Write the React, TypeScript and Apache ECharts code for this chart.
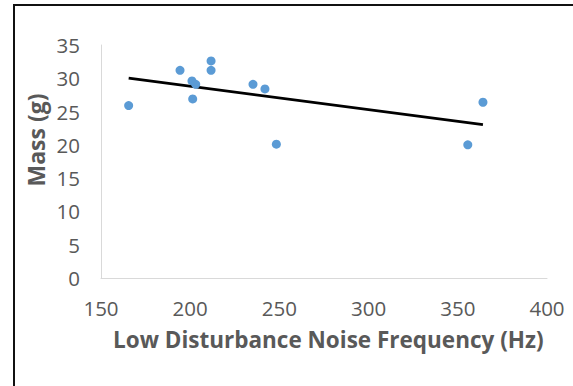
import React, { useEffect, useRef } from "react";
import * as echarts from "echarts";

const frequencyHz = [165.5, 194.3, 201.0, 203.1, 201.4, 211.7, 211.7, 235.2, 241.9, 248.3, 355.6, 364.1];
const massG = [25.9, 31.2, 29.6, 29.1, 26.9, 32.6, 31.2, 29.1, 28.4, 20.1, 20.0, 26.4];
const xTicks = [150, 200, 250, 300, 350, 400];
const yTicks = [0, 5, 10, 15, 20, 25, 30, 35];

const xTitle = "Low Disturbance Noise Frequency (Hz)";
const yTitle = "Mass (g)";

function linearFit(xs: number[], ys: number[]) {
  const n = xs.length;
  const mx = xs.reduce((a, b) => a + b, 0) / n;
  const my = ys.reduce((a, b) => a + b, 0) / n;
  let sxy = 0;
  let sxx = 0;
  for (let i = 0; i < n; i++) {
    sxy += (xs[i] - mx) * (ys[i] - my);
    sxx += (xs[i] - mx) * (xs[i] - mx);
  }
  const slope = sxy / sxx;
  return { slope, intercept: my - slope * mx };
}

export default function App() {
  const ref = useRef<HTMLDivElement>(null);
  useEffect(() => {
    if (!ref.current) return;
    const chart = echarts.init(ref.current, null, { renderer: "svg" });
    const fit = linearFit(frequencyHz, massG);
    const xMin = Math.min(...frequencyHz);
    const xMax = Math.max(...frequencyHz);
    const trend = [
      [xMin, fit.intercept + fit.slope * xMin],
      [xMax, fit.intercept + fit.slope * xMax],
    ];
    const font = "'Open Sans', sans-serif";
    chart.setOption({
      animation: false,
      backgroundColor: "#ffffff",
      grid: { left: 101, right: 26, top: 45, bottom: 108 },
      xAxis: {
        type: "value",
        min: xTicks[0],
        max: xTicks[xTicks.length - 1],
        interval: xTicks[1] - xTicks[0],
        splitLine: { show: false },
        axisTick: { show: false },
        axisLine: { show: true, lineStyle: { color: "#d9d9d9", width: 1 } },
        axisLabel: { color: "#595959", fontSize: 20.5, fontFamily: font, margin: 19 },
      },
      yAxis: {
        type: "value",
        min: yTicks[0],
        max: yTicks[yTicks.length - 1],
        interval: yTicks[1] - yTicks[0],
        splitLine: { show: false },
        axisTick: { show: false },
        axisLine: { show: true, lineStyle: { color: "#d9d9d9", width: 1 } },
        axisLabel: { color: "#595959", fontSize: 20.5, fontFamily: font, margin: 21 },
      },
      graphic: [
        {
          type: "text",
          left: 113,
          top: 328,
          style: {
            text: xTitle,
            fill: "#595959",
            font: "bold 22.5px 'Open Sans', sans-serif",
          },
        },
        {
          type: "text",
          x: 36,
          y: 140,
          rotation: Math.PI / 2,
          style: {
            text: yTitle,
            fill: "#595959",
            font: "bold 23px 'Open Sans', sans-serif",
            align: "center",
            verticalAlign: "middle",
          },
          originX: 0,
          originY: 0,
        },
      ],
      series: [
        {
          type: "scatter",
          data: frequencyHz.map((x, i) => [x, massG[i]]),
          symbolSize: 9,
          itemStyle: { color: "#5b9bd5", opacity: 1 },
          z: 3,
        },
        {
          type: "line",
          data: trend,
          showSymbol: false,
          lineStyle: { color: "#000000", width: 2.75 },
          z: 2,
        },
      ],
    });
    return () => chart.dispose();
  }, []);
  return (
    <div style={{ position: "fixed", left: 0, top: 0, width: 573, height: 386, background: "#fff", overflow: "hidden" }}>
      <div ref={ref} style={{ position: "absolute", left: 0, top: 0, width: 573, height: 386 }} />
      <div
        style={{
          position: "absolute",
          left: 13,
          top: 4,
          width: 700,
          height: 500,
          borderTop: "2px solid #111",
          borderLeft: "2px solid #111",
          pointerEvents: "none",
        }}
      />
    </div>
  );
}
